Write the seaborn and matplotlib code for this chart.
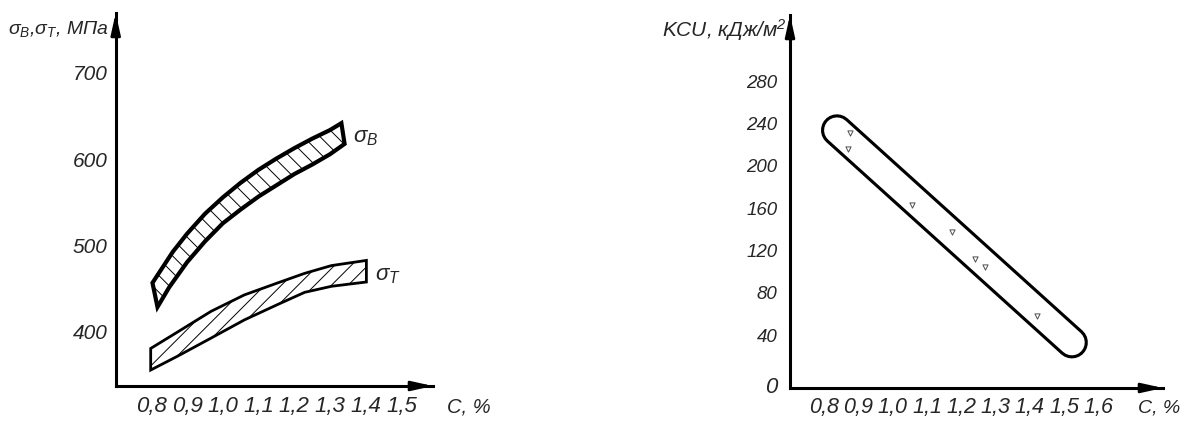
import matplotlib
matplotlib.use('Agg')
import matplotlib.pyplot as plt
from matplotlib import font_manager
import seaborn as sns

# Данные (зависимость свойств от содержания углерода)

# sigma_B - полоса разброса, верхняя и нижняя границы
sb_x_verh = [0.803, 0.86, 0.90, 0.95, 1.00, 1.05, 1.10, 1.15, 1.20, 1.25, 1.30, 1.332]
sb_y_verh = [470, 506, 527, 550, 569, 586, 601, 614, 626, 637, 647, 655]
sb_x_niz = [0.817, 0.85, 0.90, 0.95, 1.00, 1.05, 1.10, 1.15, 1.20, 1.25, 1.30, 1.341]
sb_y_niz = [442, 465, 494, 518, 539, 555, 570, 583, 596, 607, 619, 631]

# sigma_T - полоса разброса
st_x_verh = [0.798, 0.873, 0.967, 1.06, 1.154, 1.229, 1.304, 1.402]
st_y_verh = [394, 413, 437, 456, 470, 481, 490, 496]
st_x_niz = [0.798, 0.873, 0.967, 1.06, 1.154, 1.229, 1.304, 1.402]
st_y_niz = [369, 385, 406, 427, 445, 459, 466, 471]

# KCU - полоса (центральная линия) и отдельные точки
kcu_x = [0.837, 1.523]
kcu_y = [243.5, 43]
tochki_x = [0.875, 0.869, 1.056, 1.173, 1.240, 1.270, 1.421]
tochki_y = [240.7, 225.5, 172.5, 147, 121.4, 114, 68]

# Подписи осей
x1_ticks = [0.8, 0.9, 1.0, 1.1, 1.2, 1.3, 1.4, 1.5]
x1_labels = ['0,8', '0,9', '1,0', '1,1', '1,2', '1,3', '1,4', '1,5']
y1_ticks = [400, 500, 600, 700]
x2_ticks = [0.8, 0.9, 1.0, 1.1, 1.2, 1.3, 1.4, 1.5, 1.6]
x2_labels = ['0,8', '0,9', '1,0', '1,1', '1,2', '1,3', '1,4', '1,5', '1,6']
y2_ticks = [0, 40, 80, 120, 160, 200, 240, 280]

sns.set_theme(style='white')
plt.rcParams['font.family'] = ['Liberation Sans', 'DejaVu Sans']
plt.rcParams['font.style'] = 'italic'
plt.rcParams['mathtext.fontset'] = 'custom'
plt.rcParams['mathtext.it'] = 'Liberation Sans:italic'
plt.rcParams['mathtext.rm'] = 'Liberation Sans:italic'
plt.rcParams['hatch.linewidth'] = 0.7

# Узкий шрифт для цифр, если он есть (на рисунке шрифт по ГОСТ, узкий)
imena = {f.name for f in font_manager.fontManager.ttflist}
if 'Liberation Sans Narrow' in imena:
    uzkii = ['Liberation Sans Narrow', 'Liberation Sans']
    razm = dict(x1=19, y1=17, x2=18, y2=16, c1=17, c2=16, nol=20)
else:
    uzkii = ['Liberation Sans', 'DejaVu Sans']
    razm = dict(x1=16, y1=15, x2=15.5, y2=13.5, c1=14.5, c2=14, nol=16)


def oformit_osi(ax, xl, yl):
    ax.set_xlim(*xl)
    ax.set_ylim(*yl)
    for s in ['top', 'right']:
        ax.spines[s].set_visible(False)
    for s in ['left', 'bottom']:
        ax.spines[s].set_linewidth(2.2)
        ax.spines[s].set_color('black')
    ax.tick_params(direction='in', length=3, width=1, color='black')
    # стрелки на концах осей
    strelka = dict(arrowstyle='-|>,head_length=0.9,head_width=0.2', color='black',
                   lw=2, mutation_scale=14, shrinkA=0, shrinkB=0)
    ax.annotate('', xy=(1.0, 0), xytext=(0.95, 0), xycoords='axes fraction',
                arrowprops=strelka, annotation_clip=False)
    ax.annotate('', xy=(0, 1.0), xytext=(0, 0.95), xycoords='axes fraction',
                arrowprops=strelka, annotation_clip=False)


fig = plt.figure(figsize=(11.83, 4.22), dpi=100)

# Левый график: sigma_B, sigma_T
ax1 = fig.add_axes([0.0978, 0.0853, 0.2682, 0.884])
oformit_osi(ax1, (0.7, 1.5885), (350.5, 782.7))

ax1.fill(sb_x_verh + sb_x_niz[::-1], sb_y_verh + sb_y_niz[::-1],
         facecolor='white', edgecolor='black', hatch='\\\\', lw=3)
ax1.fill(st_x_verh + st_x_niz[::-1], st_y_verh + st_y_niz[::-1],
         facecolor='white', edgecolor='black', hatch='//', lw=2)

ax1.set_xticks(x1_ticks, x1_labels, fontsize=razm['x1'], fontfamily=uzkii)
ax1.set_yticks(y1_ticks, [str(v) for v in y1_ticks], fontsize=razm['y1'],
               fontfamily=uzkii, va='bottom')
ax1.tick_params(axis='x', pad=7)
ax1.tick_params(axis='y', pad=6)

ax1.text(1.364, 638, 'σ$_B$', fontsize=16, va='center', ha='left')
ax1.text(1.425, 479, 'σ$_T$', fontsize=16, va='center', ha='left')
ax1.text(1.628, -0.03, 'C, %', transform=ax1.get_xaxis_transform(),
         fontsize=razm['c1'], fontfamily=uzkii, ha='left', va='top')
ax1.text(-0.02, 0.985, 'σ$_B$,σ$_T$, МПа', transform=ax1.transAxes,
         fontsize=14, ha='right', va='top')

# Правый график: KCU
ax2 = fig.add_axes([0.6678, 0.0806, 0.3153, 0.8839])
oformit_osi(ax2, (0.7, 1.789), (0, 352.4))

sns.lineplot(x=kcu_x, y=kcu_y, ax=ax2, color='black', lw=23,
             solid_capstyle='round', legend=False)
sns.lineplot(x=kcu_x, y=kcu_y, ax=ax2, color='white', lw=18.5,
             solid_capstyle='round', legend=False)
sns.scatterplot(x=tochki_x, y=tochki_y, ax=ax2, marker='v', s=14,
                facecolor='white', edgecolor='0.3', linewidth=0.7, legend=False,
                zorder=5)

ax2.set_xticks(x2_ticks, x2_labels, fontsize=razm['x2'], fontfamily=uzkii)
ax2.set_yticks(y2_ticks, [str(v) for v in y2_ticks], fontsize=razm['y2'],
               fontfamily=uzkii, va='bottom')
ax2.tick_params(axis='x', pad=6.5)
ax2.tick_params(axis='y', pad=9)
nol = ax2.yaxis.get_major_ticks()[0].label1
nol.set_va('center')
nol.set_fontsize(razm['nol'])

ax2.text(1.716, -0.03, 'C, %', transform=ax2.get_xaxis_transform(),
         fontsize=razm['c2'], fontfamily=uzkii, ha='left', va='top')
ax2.text(-0.008, 0.995, 'KCU, кДж/м$^2$', transform=ax2.transAxes,
         fontsize=15, ha='right', va='top')

fig.savefig('out.png', dpi=100)
